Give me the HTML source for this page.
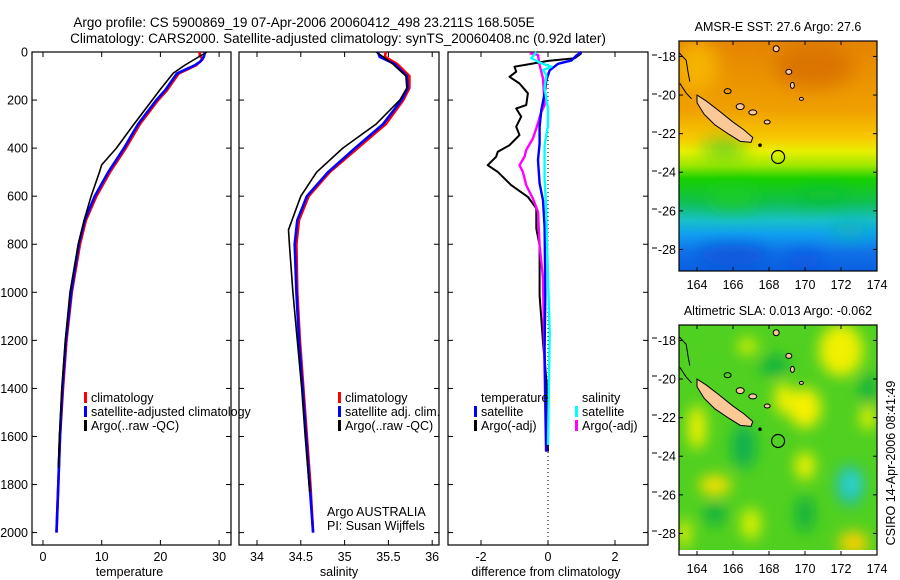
<!DOCTYPE html>
<html><head><meta charset="utf-8">
<style>
html,body{margin:0;padding:0;background:#fff;}
svg{display:block;font-family:"Liberation Sans",sans-serif;}
</style></head>
<body>
<svg id="fig" width="900" height="580" viewBox="0 0 900 580" xmlns="http://www.w3.org/2000/svg">
<defs>
  <filter id="blur1" x="-20%" y="-20%" width="140%" height="140%"><feGaussianBlur stdDeviation="9"/></filter>
  <filter id="blur2" x="-20%" y="-20%" width="140%" height="140%"><feGaussianBlur stdDeviation="7"/></filter>
  <clipPath id="clipM1"><rect x="679" y="41" width="198" height="230"/></clipPath>
  <clipPath id="clipM2"><rect x="679" y="325" width="198" height="230"/></clipPath>
  <linearGradient id="sstGrad" x1="0" y1="0" x2="0" y2="1">
    <stop offset="0" stop-color="#e48400"/>
    <stop offset="0.30" stop-color="#f0a000"/>
    <stop offset="0.42" stop-color="#f8c800"/>
    <stop offset="0.48" stop-color="#e8f000"/>
    <stop offset="0.54" stop-color="#a0e800"/>
    <stop offset="0.60" stop-color="#18d000"/>
    <stop offset="0.70" stop-color="#10c050"/>
    <stop offset="0.78" stop-color="#18c0c8"/>
    <stop offset="0.84" stop-color="#10a0f0"/>
    <stop offset="0.92" stop-color="#1070e8"/>
    <stop offset="1" stop-color="#0a60e0"/>
  </linearGradient>
</defs>
<g id="titles" font-size="13.5" fill="#000">
  <text x="304" y="27" text-anchor="middle">Argo profile: CS 5900869_19 07-Apr-2006 20060412_498 23.211S 168.505E</text>
  <text x="338" y="43" text-anchor="middle">Climatology: CARS2000. Satellite-adjusted climatology: synTS_20060408.nc (0.92d later)</text>
</g>
<g id="panels"></g>
<g id="maps"></g>
<text transform="translate(895,463) rotate(-90)" text-anchor="middle" font-size="12.5">CSIRO 14-Apr-2006 08:41:49</text>
</svg>
<script>
// ---- data ----
const tempClimDepth = [0,15,30,55,90,160,200,300,400,500,600,700,800,1000,1200,1400,1600,1800,2000];
const tempClim      = [26.7,26.7,27.2,26.1,23.1,21.1,19.6,16.5,14.1,11.4,9.1,7.3,6.3,4.9,4.0,3.4,2.9,2.6,2.3];
const tempSatDepth  = [0,20,40,55,90,160,200,300,400,500,600,700,800,1000,1200,1400,1600,1800,2000];
const tempSat       = [27.6,27.4,26.8,25.9,22.8,20.8,19.3,16.2,13.8,11.1,8.8,7.1,6.1,4.8,3.9,3.3,2.9,2.6,2.3];
const tempArgoDepth = [0,25,54,88,158,200,300,400,470,500,600,700,800,1000,1200,1400,1600,1730];
const tempArgo      = [27.9,26.2,24.2,22.2,19.9,18.6,15.5,12.5,10.0,9.6,8.2,7.0,6.0,4.6,3.8,3.2,2.8,2.6];

const salClimDepth = [0,20,50,100,150,200,300,400,500,600,700,800,1000,1200,1400,1600,1800,2000];
const salClim      = [35.47,35.46,35.60,35.74,35.74,35.67,35.47,35.15,34.83,34.59,34.48,34.45,34.46,34.49,34.53,34.57,34.61,34.64];
const salSatDepth  = [0,20,50,100,150,200,300,400,500,600,700,800,1000,1200,1400,1600,1800,2000];
const salSat       = [35.38,35.40,35.57,35.71,35.72,35.65,35.44,35.12,34.81,34.57,34.46,34.43,34.45,34.48,34.52,34.56,34.60,34.64];
const salArgoDepth = [0,10,50,100,150,200,300,400,500,600,700,740,800,1000,1200,1400,1600,1830];
const salArgo      = [35.36,35.40,35.55,35.70,35.71,35.63,35.36,34.98,34.68,34.50,34.40,34.36,34.37,34.41,34.46,34.51,34.55,34.60];

const dTempSatDepth  = [0,14,35,49,76,118,173,242,311,381,450,547,617,728,1005,1235,1663];
const dTempSat       = [1.0,0.85,0.7,0.3,0.05,-0.05,-0.1,-0.2,-0.25,-0.25,-0.3,-0.25,-0.15,-0.1,-0.08,-0.1,-0.05];
const dTempArgoDepth = [5,26,37,54,61,82,103,131,172,221,235,269,311,346,388,415,436,471,499,554,603,651,735,804,1013,1208,1380,1663];
const dTempArgo      = [1.0,0.8,0.0,-0.7,-1.0,-0.95,-1.15,-0.85,-0.6,-0.65,-0.95,-0.8,-0.95,-0.85,-1.15,-1.5,-1.55,-1.8,-1.5,-1.1,-0.6,-0.35,-0.35,-0.25,-0.25,-0.15,-0.04,0.0];
const dSalSatDepth   = [1,26,47,61,75,96,151,235,304,388,526,665,943,1163,1635];
const dSalSat        = [-0.35,-0.5,-0.2,0.1,-0.15,-0.05,-0.1,0.0,0.0,-0.1,-0.1,-0.05,0.0,0.05,0.0];
const dSalArgoDepth  = [5,12,54,110,221,249,318,360,408,436,471,499,554,610,665,804,943,1663];
const dSalArgo       = [-0.55,-0.3,-0.25,-0.15,-0.1,-0.2,-0.35,-0.45,-0.65,-0.7,-0.85,-0.75,-0.65,-0.45,-0.3,-0.25,-0.15,-0.06];

const depthTicks = [0,200,400,600,800,1000,1200,1400,1600,1800,2000];
const tempTicks = [0,10,20,30];
const salTicks = [34,34.5,35,35.5,36];
const diffTicks = [-2,0,2];
const lonTicks = [164,166,168,170,172,174];
const latTicks = [18,20,22,24,26,28];

// ---- helpers ----
const NS = "http://www.w3.org/2000/svg";
function mk(tag, attrs, parent){ const e=document.createElementNS(NS,tag); for(const k in attrs) e.setAttribute(k,attrs[k]); parent.appendChild(e); return e; }
const TOP=52, BOT=545;
const yD = d => TOP + d*0.2403;
const panels = [
  {x0:32,x1:231, sx:v=>43+v*5.87, ticks:tempTicks, label:"temperature", name:"temperature-panel"},
  {x0:239,x1:439, sx:v=>257+(v-34)*87.6, ticks:salTicks, label:"salinity", name:"salinity-panel"},
  {x0:448,x1:648, sx:v=>548+v*33.5, ticks:diffTicks, label:"difference from climatology", name:"difference-panel"}
];
const gP = document.getElementById('panels');

function line(panel, depths, vals, color, w, name){
  const pts = depths.map((d,i)=>panel.sx(vals[i]).toFixed(1)+","+yD(d).toFixed(1)).join(" ");
  const p = mk('polyline',{points:pts,fill:'none',stroke:color,'stroke-width':w,'stroke-linejoin':'round'},panel.g);
  
  
}

panels.forEach((P,pi)=>{
  const g = mk('g',{},gP);
  
  
  P.g = g;
  const fr = mk('rect',{x:P.x0,y:TOP,width:P.x1-P.x0,height:BOT-TOP,fill:'#fff',stroke:'#000','stroke-width':1.2},g);
  
  
  depthTicks.forEach(d=>{
    const y=yD(d);
    mk('line',{x1:P.x0,y1:y,x2:P.x0+5,y2:y,stroke:'#000','stroke-width':1},g);
    mk('line',{x1:P.x1-5,y1:y,x2:P.x1,y2:y,stroke:'#000','stroke-width':1},g);
    if(pi===0){
      const t=mk('text',{x:28,y:y+4.5,'text-anchor':'end','font-size':12.5},g);
      t.textContent=d;
      
      
    }
  });
  P.ticks.forEach(v=>{
    const x=P.sx(v);
    mk('line',{x1:x,y1:TOP,x2:x,y2:TOP+5,stroke:'#000','stroke-width':1},g);
    mk('line',{x1:x,y1:BOT-5,x2:x,y2:BOT,stroke:'#000','stroke-width':1},g);
    const t=mk('text',{x:x,y:561,'text-anchor':'middle','font-size':12.5},g);
    t.textContent = String(v);
    
    
  });
  const xl=mk('text',{x:(P.x0+P.x1)/2+(pi===0?-2:pi===2?-2:0),y:576,'text-anchor':'middle','font-size':12.5},g);
  xl.textContent=P.label;
  
  
});

const zl = mk('line',{x1:548,y1:TOP,x2:548,y2:BOT,stroke:'#000','stroke-width':1,'stroke-dasharray':'1,3'},panels[2].g);


[55,94,132,171,209,248,338,376,415,453,492,531].forEach(y=>mk('line',{x1:652,y1:y,x2:657,y2:y,stroke:'#000','stroke-width':1},gP));

line(panels[0], tempClimDepth, tempClim, '#ff0000', 2.6, 'temperature-climatology-line');
line(panels[0], tempSatDepth, tempSat, '#0000ff', 2.6, 'temperature-satellite-line');
line(panels[0], tempArgoDepth, tempArgo, '#000000', 1.6, 'temperature-argo-line');
line(panels[1], salClimDepth, salClim, '#ff0000', 2.6, 'salinity-climatology-line');
line(panels[1], salSatDepth, salSat, '#0000ff', 2.6, 'salinity-satellite-line');
line(panels[1], salArgoDepth, salArgo, '#000000', 1.6, 'salinity-argo-line');
line(panels[2], dTempArgoDepth, dTempArgo, '#000000', 2, 'diff-temperature-argo-line');
line(panels[2], dSalArgoDepth, dSalArgo, '#ff00ff', 2.4, 'diff-salinity-argo-line');
line(panels[2], dTempSatDepth, dTempSat, '#0000ff', 2.4, 'diff-temperature-satellite-line');
line(panels[2], dSalSatDepth, dSalSat, '#00ffff', 2.4, 'diff-salinity-satellite-line');

function legend(g, x, y, color, label, name){
  const b=mk('rect',{x:x-7,y:y-10,width:3,height:11,fill:color},g);
  
  
  const t=mk('text',{x:x,y:y,'font-size':12.5},g);
  t.textContent=label;
  
  
}
const lg1=mk('g',{},gP);  
legend(lg1,91,402,'#ff0000','climatology','legend-climatology');
legend(lg1,91,416,'#0000ff','satellite-adjusted climatology','legend-satellite-adjusted');
legend(lg1,91,430,'#000000','Argo(..raw -QC)','legend-argo');
const lg2=mk('g',{},gP);  
legend(lg2,345,402,'#ff0000','climatology','legend-climatology');
legend(lg2,345,416,'#0000ff','satellite adj. clim.','legend-satellite-adj');
legend(lg2,345,430,'#000000','Argo(..raw -QC)','legend-argo');
const ag=mk('text',{x:327,y:516,'font-size':12.5},gP); ag.textContent='Argo AUSTRALIA';
 
const pi2=mk('text',{x:327,y:530,'font-size':12.5},gP); pi2.textContent='PI: Susan Wijffels';
 
const lg3=mk('g',{},gP);  
const lt=mk('text',{x:481,y:402,'font-size':12.5},lg3); lt.textContent='temperature';
 
legend(lg3,481,416,'#0000ff','satellite','legend-temp-satellite');
legend(lg3,481,430,'#000000','Argo(-adj)','legend-temp-argo');
const ls=mk('text',{x:582,y:402,'font-size':12.5},lg3); ls.textContent='salinity';
 
legend(lg3,582,416,'#00ffff','satellite','legend-sal-satellite');
legend(lg3,582,430,'#ff00ff','Argo(-adj)','legend-sal-argo');

// ---- maps ----
const gM = document.getElementById('maps');
const MX0=679, MX1=877;
const mx = lon => MX0 + (lon-163)*18;
const blobs2 = [
  [172,18.5,22,26,'#f0f000'],[170,21.5,16,20,'#f8f000'],[165,25.5,16,10,'#f8e000'],[164,22.5,9,22,'#f0f000'],
  [168.8,21,9,16,'#f0f000'],[170,24.5,10,14,'#f0f000'],[172.7,28.5,15,12,'#f8d000'],[163.3,28,6,14,'#f0f000'],
  [166.8,18.3,10,8,'#d8f000'],[167,27.5,10,16,'#d8f000'],[173.5,22,8,12,'#e8f000'],
  [166.6,23.5,12,22,'#10b050'],[168.3,19.3,14,10,'#10b040'],[170,27,9,18,'#10b040'],[165,27,12,10,'#10b040'],
  [172.5,25.5,14,20,'#20c0b0'],[172.6,25.4,7,10,'#30d8e0'],[173.5,20.5,8,16,'#10b040']
];
function coast(g, my){
  const isl = [[164.0,20.0],[164.5,20.3],[165.2,20.8],[166.0,21.4],[166.6,21.8],[167.1,22.2],[167.0,22.45],[166.4,22.4],[165.8,22.05],[165.0,21.55],[164.4,21.0],[164.0,20.4]];
  const p=mk('polygon',{points:isl.map(q=>mx(q[0])+","+my(q[1])).join(" "),fill:'#fcc896',stroke:'#000','stroke-width':1},g);
   
  [[167.1,20.9,4,2.5,'#fcc896'],[167.9,21.4,3,2,'#fcc896'],[166.4,20.6,4,3,'#fcc896'],[165.7,19.8,3.5,2.5,'none'],
   [169.1,18.8,3,2.5,'#fcc896'],[169.3,19.5,2,3,'#fcc896'],[168.4,17.6,3,3,'#fcc896'],[169.8,20.2,2,1.5,'#fcc896']]
   .forEach(e=>mk('ellipse',{cx:mx(e[0]),cy:my(e[1]),rx:e[2],ry:e[3],fill:e[4],stroke:'#000','stroke-width':1},g));
  mk('polyline',{points:[[163,17.8],[163.4,18.2],[163.5,18.8],[163.6,19.3]].map(q=>mx(q[0])+","+my(q[1])).join(" "),fill:'none',stroke:'#000','stroke-width':1},g);
  mk('polyline',{points:[[163.05,19.4],[163.4,19.9],[163.7,20.2]].map(q=>mx(q[0])+","+my(q[1])).join(" "),fill:'none',stroke:'#000','stroke-width':1},g);
  mk('circle',{cx:mx(167.5),cy:my(22.6),r:1.8,fill:'#000'},g);
  const c=mk('circle',{cx:mx(168.505),cy:my(23.211),r:6.5,fill:'none',stroke:'#000','stroke-width':1.2},g);
   
}
function axes(g, y0, my, title, titleName){
  mk('rect',{x:MX0,y:y0,width:MX1-MX0,height:230,fill:'none',stroke:'#000','stroke-width':1.2},g);
  lonTicks.forEach(l=>{
    const x=mx(l);
    mk('line',{x1:x,y1:y0,x2:x,y2:y0+4,stroke:'#000'},g);
    mk('line',{x1:x,y1:y0+226,x2:x,y2:y0+230,stroke:'#000'},g);
    const t=mk('text',{x:x,y:y0+248,'text-anchor':'middle','font-size':12.5},g);
    t.textContent=l;
     
  });
  latTicks.forEach(l=>{
    const y=my(l);
    mk('line',{x1:MX0,y1:y,x2:MX0+4,y2:y,stroke:'#000'},g);
    mk('line',{x1:MX1-4,y1:y,x2:MX1,y2:y,stroke:'#000'},g);
    const t=mk('text',{x:676,y:y+4.5,'text-anchor':'end','font-size':12.5},g);
    t.textContent="-"+l;
     
  });
  const t=mk('text',{x:778,y:y0-10,'text-anchor':'middle','font-size':12.5},g);
  t.textContent=title;
   
}
(function(){
  const y0=41, my = lat => y0 + (lat-17.2)*19.3;
  const g=mk('g',{},gM);  
  const c=mk('g',{'clip-path':'url(#clipM1)'},g);
  mk('rect',{x:MX0,y:y0,width:198,height:230,fill:'url(#sstGrad)'},c);
  const b=mk('g',{filter:'url(#blur1)'},c);
  [[170.5,18.5,40,22,'#d87000'],[164,18.5,22,26,'#f8b800'],[165.5,22.8,22,7,'#18c030'],[166,25.3,26,10,'#20d020'],
   [171,25.2,28,7,'#10c030'],[166,28.3,36,10,'#1050d8'],[170,28.6,20,8,'#1050e0'],[172.5,27,20,8,'#10b0b0']]
   .forEach(e=>mk('ellipse',{cx:mx(e[0]),cy:my(e[1]),rx:e[2],ry:e[3],fill:e[4],opacity:0.85},b));
  coast(c,my);
  axes(g,y0,my,'AMSR-E SST: 27.6 Argo: 27.6','sst-map-title');
})();
(function(){
  const y0=325, my = lat => y0 + (lat-17.2)*19.3;
  const g=mk('g',{},gM);  
  const c=mk('g',{'clip-path':'url(#clipM2)'},g);
  mk('rect',{x:MX0,y:y0,width:198,height:230,fill:'#50d020'},c);
  const b=mk('g',{filter:'url(#blur2)'},c);
  blobs2.forEach(e=>mk('ellipse',{cx:mx(e[0]),cy:my(e[1]),rx:e[2],ry:e[3],fill:e[4]},b));
  mk('rect',{x:MX0,y:y0+225,width:198,height:5,fill:'#fff'},c);
  coast(c,my);
  axes(g,y0,my,'Altimetric SLA: 0.013 Argo: -0.062','sla-map-title');
})();
</script>
</body></html>
